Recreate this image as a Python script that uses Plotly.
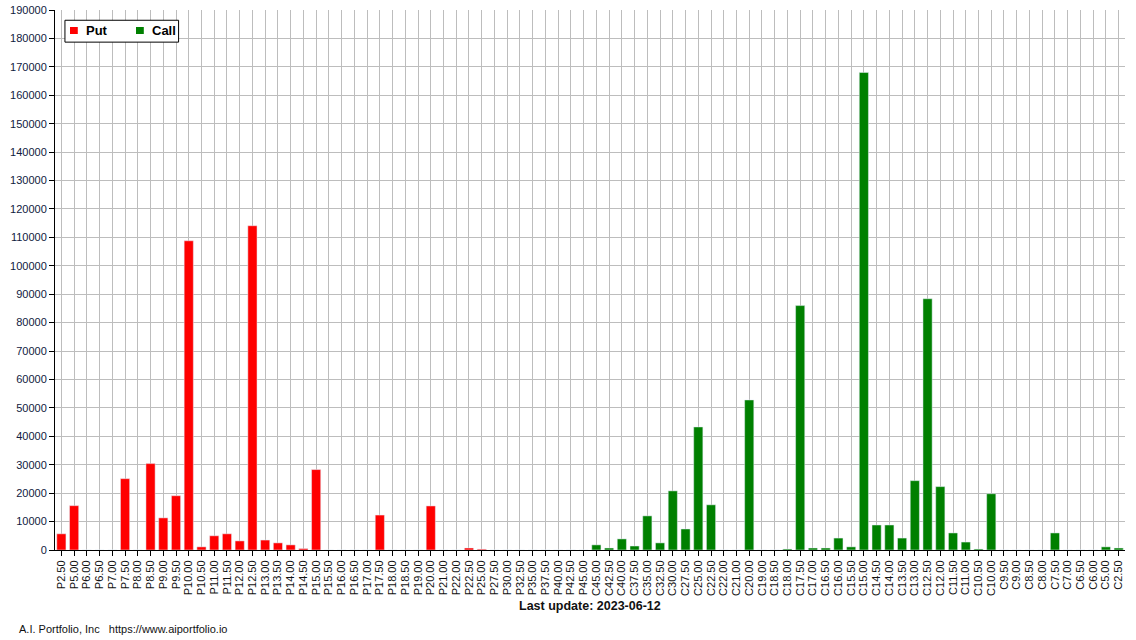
import plotly.graph_objects as go

# open interest by strike
put_labels = ["P2.50", "P5.00", "P6.00", "P6.50", "P7.00", "P7.50", "P8.00", "P8.50",
              "P9.00", "P9.50", "P10.00", "P10.50", "P11.00", "P11.50", "P12.00", "P12.50",
              "P13.00", "P13.50", "P14.00", "P14.50", "P15.00", "P15.50", "P16.00", "P16.50",
              "P17.00", "P17.50", "P18.00", "P18.50", "P19.00", "P20.00", "P21.00", "P22.00",
              "P22.50", "P25.00", "P27.50", "P30.00", "P32.50", "P35.00", "P37.50", "P40.00",
              "P42.50", "P45.00"]
put_oi = [5700, 15600, 0, 0, 0, 25100, 0, 30400,
          11300, 19100, 108800, 1100, 5000, 5700, 3200, 114100,
          3500, 2500, 1800, 500, 28300, 0, 0, 0,
          0, 12300, 0, 0, 0, 15500, 0, 0,
          700, 300, 0, 0, 0, 0, 0, 0,
          0, 0]

call_labels = ["C45.00", "C42.50", "C40.00", "C37.50", "C35.00", "C32.50", "C30.00", "C27.50",
               "C25.00", "C22.50", "C22.00", "C21.00", "C20.00", "C19.00", "C18.50", "C18.00",
               "C17.50", "C17.00", "C16.50", "C16.00", "C15.50", "C15.00", "C14.50", "C14.00",
               "C13.50", "C13.00", "C12.50", "C12.00", "C11.50", "C11.00", "C10.50", "C10.00",
               "C9.50", "C9.00", "C8.50", "C8.00", "C7.50", "C7.00", "C6.50", "C6.00",
               "C5.00", "C2.50"]
call_oi = [1800, 700, 3900, 1400, 12000, 2500, 20800, 7400,
           43300, 15900, 0, 0, 52800, 0, 0, 350,
           86000, 700, 700, 4200, 1100, 168000, 8800, 8800,
           4200, 24400, 88400, 22300, 6000, 2800, 350, 19800,
           0, 0, 0, 0, 6000, 0, 0, 0,
           1100, 700]

update_date = "2023-06-12"
put_color = "#ff0000"
call_color = "#008000"

fig = go.Figure()
fig.add_trace(go.Bar(x=put_labels, y=put_oi, name="Put", marker_color=put_color))
fig.add_trace(go.Bar(x=call_labels, y=call_oi, name="Call", marker_color=call_color))

font = "Liberation Sans, Arial, sans-serif"

# small boxed legend drawn by hand (plotly's own legend is much wider)
legend_shapes = [
    dict(type="rect", xref="paper", yref="paper", x0=0.0093, x1=0.1155, y0=0.9405, y1=0.981,
         line=dict(color="black", width=1), fillcolor="white", layer="above"),
    dict(type="rect", xref="paper", yref="paper", x0=0.0140, x1=0.0213, y0=0.9555, y1=0.9685,
         line=dict(width=0), fillcolor=put_color, layer="above"),
    dict(type="rect", xref="paper", yref="paper", x0=0.0757, x1=0.0830, y0=0.9555, y1=0.9685,
         line=dict(width=0), fillcolor=call_color, layer="above"),
]
legend_text = [
    dict(text="<b>Put</b>", xref="paper", yref="paper", x=0.0267, y=0.962,
         xanchor="left", yanchor="middle", showarrow=False,
         font=dict(size=13, color="black")),
    dict(text="<b>Call</b>", xref="paper", yref="paper", x=0.0888, y=0.962,
         xanchor="left", yanchor="middle", showarrow=False,
         font=dict(size=13, color="black")),
]

fig.update_layout(
    width=1136, height=640,
    margin=dict(l=55, r=11, t=10, b=90),
    barmode="relative", bargap=0.28,
    plot_bgcolor="white", paper_bgcolor="white",
    font=dict(family=font, size=11, color="#111"),
    showlegend=False,
    xaxis=dict(type="category", categoryorder="array",
               categoryarray=put_labels + call_labels, dtick=1, automargin=False,
               tickangle=-90, showgrid=True, gridcolor="#bdbdbd", gridwidth=1,
               showline=True, linecolor="black", linewidth=1,
               ticks="outside", ticklen=5, tickcolor="black",
               tickfont=dict(size=11, color="#111")),
    yaxis=dict(range=[0, 190000], dtick=10000, tickformat="d", automargin=False,
               showgrid=True, gridcolor="#bdbdbd", gridwidth=1,
               showline=True, linecolor="black", linewidth=1,
               ticks="outside", ticklen=5, tickcolor="black", zeroline=False,
               tickfont=dict(size=11, color="#102040")),
    shapes=legend_shapes,
    annotations=legend_text + [
        dict(text="<b>Last update: " + update_date + "</b>", xref="paper", yref="paper",
             x=0.5, y=-0.1037, xanchor="center", yanchor="middle", showarrow=False,
             font=dict(size=12.5, color="#111")),
        dict(text="A.I. Portfolio, Inc\u00a0\u00a0\u00a0https://www.aiportfolio.io",
             xref="paper", yref="paper", x=-0.0355, y=-0.1463,
             xanchor="left", yanchor="middle", showarrow=False,
             font=dict(size=11, color="#111")),
    ],
)

# the page's default body margin would push the figure 8px off the window
fig.write_html("out.html", config={"displayModeBar": False},
               post_script="document.body.style.margin='0';")
